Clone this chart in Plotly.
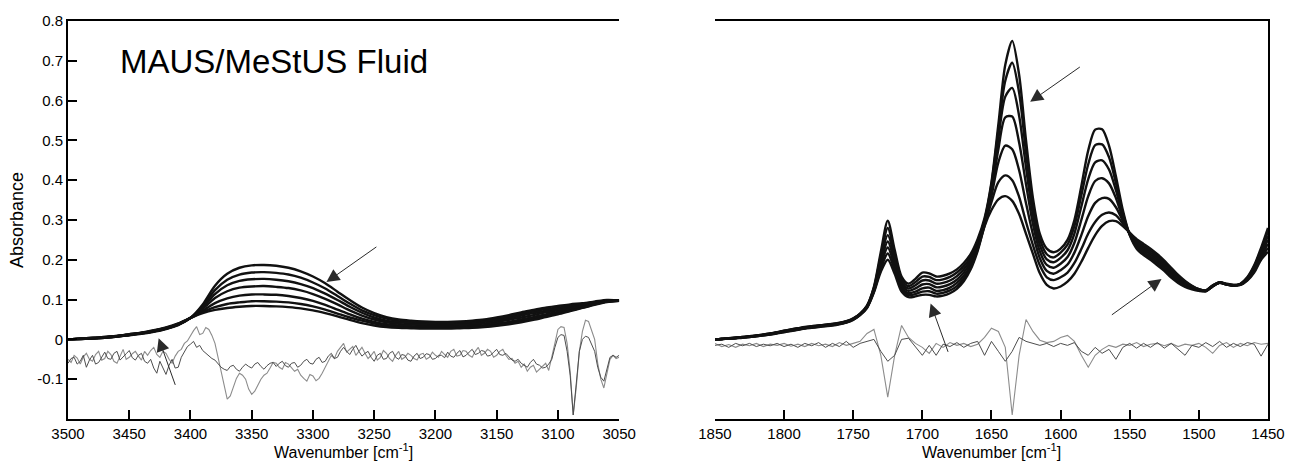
import plotly.graph_objects as go

# ---------------- O-H / C-H region (left panel) ----------------
wn_oh = [3500, 3490, 3480, 3470, 3460, 3450, 3440, 3430, 3420, 3410,
         3400, 3390, 3380, 3370, 3360, 3350, 3340, 3330, 3320, 3310,
         3300, 3290, 3280, 3270, 3260, 3250, 3240, 3230, 3220, 3210,
         3200, 3190, 3180, 3170, 3160, 3150, 3140, 3130, 3120, 3110,
         3100, 3090, 3080, 3070, 3060, 3050]

oh_1 = [0.000, 0.001, 0.002, 0.004, 0.007, 0.010, 0.014, 0.019, 0.026, 0.036,
        0.054, 0.088, 0.135, 0.165, 0.180, 0.186, 0.187, 0.185, 0.180, 0.171,
        0.158, 0.141, 0.120, 0.099, 0.080, 0.066, 0.056, 0.050, 0.047, 0.045,
        0.044, 0.044, 0.045, 0.047, 0.050, 0.055, 0.061, 0.068, 0.074, 0.080,
        0.084, 0.088, 0.091, 0.095, 0.099, 0.098]
oh_2 = [0.000, 0.001, 0.002, 0.004, 0.007, 0.011, 0.015, 0.020, 0.027, 0.037,
        0.054, 0.084, 0.124, 0.150, 0.163, 0.168, 0.169, 0.167, 0.163, 0.155,
        0.143, 0.128, 0.109, 0.090, 0.073, 0.061, 0.052, 0.046, 0.044, 0.042,
        0.041, 0.041, 0.042, 0.044, 0.047, 0.051, 0.057, 0.064, 0.070, 0.076,
        0.080, 0.085, 0.089, 0.094, 0.098, 0.098]
oh_3 = [0.000, 0.001, 0.003, 0.005, 0.008, 0.011, 0.015, 0.020, 0.027, 0.037,
        0.054, 0.081, 0.114, 0.136, 0.147, 0.151, 0.152, 0.150, 0.146, 0.139,
        0.129, 0.115, 0.099, 0.082, 0.067, 0.055, 0.047, 0.043, 0.041, 0.039,
        0.038, 0.038, 0.039, 0.041, 0.044, 0.048, 0.053, 0.060, 0.066, 0.072,
        0.077, 0.082, 0.087, 0.092, 0.097, 0.098]
oh_4 = [0.000, 0.002, 0.003, 0.005, 0.008, 0.012, 0.016, 0.021, 0.028, 0.038,
        0.054, 0.077, 0.104, 0.121, 0.130, 0.133, 0.134, 0.132, 0.129, 0.123,
        0.114, 0.102, 0.088, 0.073, 0.060, 0.050, 0.043, 0.039, 0.037, 0.036,
        0.035, 0.035, 0.036, 0.038, 0.040, 0.044, 0.049, 0.055, 0.061, 0.068,
        0.073, 0.079, 0.085, 0.091, 0.096, 0.098]
oh_5 = [0.000, 0.002, 0.003, 0.005, 0.008, 0.012, 0.016, 0.022, 0.029, 0.039,
        0.054, 0.072, 0.091, 0.103, 0.110, 0.113, 0.113, 0.112, 0.109, 0.104,
        0.097, 0.087, 0.075, 0.063, 0.052, 0.044, 0.038, 0.035, 0.033, 0.032,
        0.032, 0.032, 0.033, 0.034, 0.036, 0.040, 0.044, 0.050, 0.056, 0.063,
        0.069, 0.076, 0.082, 0.089, 0.095, 0.097]
oh_6 = [0.000, 0.002, 0.004, 0.006, 0.009, 0.013, 0.017, 0.022, 0.029, 0.039,
        0.054, 0.069, 0.081, 0.089, 0.093, 0.096, 0.096, 0.095, 0.093, 0.089,
        0.083, 0.075, 0.065, 0.055, 0.047, 0.040, 0.034, 0.031, 0.030, 0.029,
        0.029, 0.029, 0.030, 0.031, 0.033, 0.036, 0.041, 0.046, 0.052, 0.059,
        0.065, 0.073, 0.080, 0.088, 0.095, 0.097]
oh_7 = [0.000, 0.002, 0.004, 0.006, 0.009, 0.013, 0.017, 0.023, 0.030, 0.040,
        0.054, 0.066, 0.074, 0.079, 0.082, 0.084, 0.084, 0.083, 0.081, 0.078,
        0.073, 0.066, 0.058, 0.049, 0.041, 0.035, 0.031, 0.029, 0.028, 0.027,
        0.027, 0.027, 0.028, 0.029, 0.031, 0.034, 0.038, 0.043, 0.049, 0.056,
        0.063, 0.071, 0.079, 0.087, 0.094, 0.097]

# difference spectra, 2.5 cm-1 spacing
wn_oh_diff = [3500 - 2.5 * i for i in range(181)]
oh_diff_a = [
    -0.050, -0.058, -0.040, -0.047, -0.062, -0.044, -0.035, -0.050, -0.055, -0.038,
    -0.030, -0.052, -0.048, -0.030, -0.038, -0.055, -0.060, -0.040, -0.025, -0.050,
    -0.045, -0.036, -0.030, -0.042, -0.052, -0.030, -0.040, -0.028, -0.020, -0.038,
    -0.045, -0.030, -0.035, -0.050, -0.060, -0.042, -0.030, -0.025, -0.010, -0.004,
    0.010, 0.022, 0.032, 0.012, 0.015, 0.030, 0.025, 0.010, -0.010, -0.045,
    -0.080, -0.120, -0.150, -0.142, -0.120, -0.098, -0.085, -0.090, -0.100, -0.125,
    -0.138, -0.130, -0.115, -0.100, -0.090, -0.085, -0.072, -0.058, -0.060, -0.070,
    -0.075, -0.058, -0.062, -0.072, -0.080, -0.075, -0.090, -0.098, -0.105, -0.088,
    -0.092, -0.104, -0.098, -0.085, -0.070, -0.052, -0.040, -0.048, -0.030, -0.020,
    -0.010, -0.032, -0.025, -0.018, -0.040, -0.030, -0.020, -0.035, -0.048, -0.040,
    -0.030, -0.052, -0.045, -0.028, -0.035, -0.048, -0.055, -0.040, -0.030, -0.050,
    -0.045, -0.035, -0.040, -0.048, -0.052, -0.038, -0.035, -0.050, -0.045, -0.032,
    -0.040, -0.045, -0.030, -0.038, -0.045, -0.030, -0.025, -0.042, -0.040, -0.028,
    -0.030, -0.040, -0.045, -0.030, -0.020, -0.040, -0.035, -0.025, -0.030, -0.045,
    -0.040, -0.030, -0.025, -0.040, -0.050, -0.048, -0.060, -0.055, -0.070, -0.062,
    -0.080, -0.070, -0.065, -0.082, -0.075, -0.068, -0.060, -0.078, -0.040, -0.010,
    0.025, 0.032, 0.030, -0.010, -0.080, -0.190, -0.120, -0.030, 0.020, 0.048,
    0.045, 0.020, 0.000, -0.060, -0.100, -0.122, -0.090, -0.050, -0.040, -0.048,
    -0.045]
oh_diff_b = [
    -0.060, -0.048, -0.045, -0.062, -0.055, -0.040, -0.070, -0.052, -0.040, -0.062,
    -0.058, -0.045, -0.032, -0.048, -0.050, -0.035, -0.030, -0.052, -0.045, -0.036,
    -0.028, -0.046, -0.052, -0.040, -0.035, -0.055, -0.060, -0.050, -0.072, -0.085,
    -0.055, -0.070, -0.088, -0.065, -0.050, -0.072, -0.070, -0.045, -0.030, -0.018,
    -0.012, -0.005, -0.020, -0.015, -0.028, -0.035, -0.040, -0.048, -0.052, -0.060,
    -0.070, -0.075, -0.078, -0.068, -0.065, -0.075, -0.080, -0.070, -0.062, -0.068,
    -0.072, -0.062, -0.058, -0.068, -0.075, -0.066, -0.060, -0.058, -0.068, -0.060,
    -0.055, -0.066, -0.070, -0.060, -0.058, -0.070, -0.065, -0.055, -0.050, -0.060,
    -0.062, -0.050, -0.045, -0.058, -0.055, -0.042, -0.035, -0.048, -0.045, -0.030,
    -0.020, -0.030, -0.038, -0.025, -0.015, -0.030, -0.042, -0.035, -0.030, -0.045,
    -0.055, -0.040, -0.035, -0.050, -0.048, -0.035, -0.030, -0.045, -0.050, -0.038,
    -0.040, -0.052, -0.055, -0.042, -0.035, -0.048, -0.045, -0.036, -0.038, -0.050,
    -0.048, -0.040, -0.040, -0.046, -0.032, -0.042, -0.045, -0.035, -0.028, -0.044,
    -0.040, -0.032, -0.025, -0.038, -0.035, -0.028, -0.030, -0.042, -0.040, -0.032,
    -0.025, -0.038, -0.040, -0.035, -0.045, -0.052, -0.055, -0.050, -0.060, -0.066,
    -0.070, -0.058, -0.050, -0.062, -0.065, -0.072, -0.070, -0.062, -0.050, -0.020,
    0.005, 0.012, 0.010, -0.030, -0.090, -0.190, -0.110, -0.030, 0.000, 0.008,
    0.005, -0.015, -0.030, -0.070, -0.095, -0.105, -0.075, -0.045, -0.040, -0.045,
    -0.040]

# ---------------- C=O / C=C region (right panel) ----------------
wn_co = list(range(1850, 1445, -5))
co_1 = [.000, .001, .003, .004, .006, .008, .010, .012, .015, .018,
        .022, .025, .028, .031, .033, .035, .037, .039, .042, .046,
        .053, .065, .085, .132, .220, .298, .225, .158, .140, .152,
        .168, .166, .158, .160, .166, .176, .192, .215, .252, .305,
        .395, .540, .690, .750, .665, .500, .355, .265, .228, .219,
        .228, .250, .300, .385, .475, .527, .528, .487, .410, .325,
        .262, .228, .212, .200, .186, .172, .155, .142, .132, .126,
        .122, .121, .133, .142, .138, .135, .140, .156, .186, .230,
        .280]
co_2 = [.000, .001, .003, .004, .006, .008, .010, .012, .015, .018,
        .021, .025, .028, .030, .033, .035, .037, .039, .041, .045,
        .052, .064, .084, .130, .210, .280, .215, .151, .134, .144,
        .158, .157, .149, .151, .157, .168, .184, .208, .246, .300,
        .390, .525, .650, .695, .620, .470, .335, .252, .214, .206,
        .218, .238, .285, .362, .440, .488, .490, .458, .393, .318,
        .263, .232, .216, .204, .190, .176, .159, .145, .135, .128,
        .123, .121, .133, .142, .138, .135, .139, .155, .183, .225,
        .270]
co_3 = [.000, .001, .003, .004, .005, .007, .009, .012, .014, .017,
        .021, .024, .027, .030, .032, .034, .036, .038, .041, .045,
        .052, .064, .083, .127, .200, .262, .205, .144, .128, .136,
        .148, .148, .140, .142, .148, .159, .176, .201, .240, .296,
        .383, .505, .610, .632, .562, .432, .313, .237, .201, .194,
        .205, .224, .266, .334, .403, .445, .450, .427, .375, .311,
        .264, .236, .221, .208, .194, .180, .163, .149, .138, .130,
        .124, .122, .134, .142, .138, .136, .139, .153, .180, .220,
        .260]
co_4 = [.000, .001, .002, .004, .005, .007, .009, .011, .014, .017,
        .020, .023, .026, .029, .031, .033, .035, .037, .040, .044,
        .051, .063, .082, .125, .192, .246, .194, .137, .122, .128,
        .138, .139, .131, .133, .139, .150, .168, .194, .235, .293,
        .372, .478, .558, .560, .495, .390, .290, .221, .187, .180,
        .190, .207, .243, .300, .360, .398, .405, .392, .355, .304,
        .265, .240, .226, .213, .199, .185, .168, .153, .141, .132,
        .125, .122, .134, .143, .139, .136, .138, .152, .177, .215,
        .250]
co_5 = [.000, .001, .002, .003, .005, .007, .009, .011, .013, .016,
        .020, .023, .026, .028, .031, .033, .035, .037, .039, .043,
        .050, .062, .081, .122, .185, .231, .184, .131, .116, .120,
        .128, .130, .122, .124, .130, .142, .160, .187, .230, .290,
        .360, .445, .487, .478, .425, .342, .264, .204, .172, .165,
        .174, .188, .218, .262, .310, .343, .355, .353, .332, .298,
        .266, .244, .231, .218, .204, .189, .172, .156, .143, .133,
        .125, .122, .135, .143, .139, .136, .138, .150, .174, .210,
        .240]
co_6 = [.000, .001, .002, .003, .005, .006, .008, .010, .013, .016,
        .019, .022, .025, .028, .030, .032, .034, .036, .039, .043,
        .050, .062, .080, .120, .177, .216, .174, .125, .111, .114,
        .120, .121, .115, .117, .123, .134, .153, .181, .226, .286,
        .345, .395, .412, .400, .358, .295, .237, .186, .156, .149,
        .156, .168, .192, .227, .266, .295, .313, .319, .312, .291,
        .267, .248, .235, .223, .209, .194, .176, .159, .145, .134,
        .126, .123, .135, .143, .139, .137, .137, .149, .171, .205,
        .230]
co_7 = [.000, .001, .002, .003, .004, .006, .008, .010, .012, .015,
        .018, .021, .024, .027, .029, .031, .033, .035, .038, .042,
        .049, .061, .079, .118, .170, .200, .165, .120, .106, .108,
        .112, .112, .108, .110, .116, .127, .146, .176, .222, .284,
        .325, .352, .360, .348, .315, .265, .215, .166, .137, .128,
        .133, .145, .165, .195, .230, .262, .285, .297, .297, .285,
        .268, .252, .240, .228, .214, .198, .180, .162, .147, .135,
        .126, .123, .136, .144, .140, .137, .137, .148, .168, .200,
        .220]

co_diff_a = [-0.010, -0.018, -0.013, -0.020, -0.012, -0.016, -0.010, -0.018, -0.012, -0.015,
             -0.010, -0.017, -0.012, -0.018, -0.010, -0.016, -0.012, -0.018, -0.008, -0.015,
             -0.010, -0.005, 0.015, 0.025, -0.040, -0.145, -0.040, 0.035, 0.005, -0.010,
             -0.020, -0.035, -0.010, -0.020, -0.008, -0.015, -0.010, -0.018, -0.012, 0.005,
             0.028, 0.020, -0.020, -0.190, -0.040, 0.050, 0.020, -0.002, -0.008, -0.005,
             0.005, 0.010, -0.005, -0.040, -0.070, -0.040, -0.025, -0.015, -0.020, -0.012,
             -0.015, -0.008, -0.018, -0.012, -0.010, -0.016, -0.010, -0.018, -0.012, -0.015,
             -0.010, -0.020, -0.035, -0.015, -0.008, -0.020, -0.010, -0.016, -0.008, -0.012,
             -0.010]
co_diff_b = [-0.015, -0.012, -0.020, -0.010, -0.016, -0.010, -0.018, -0.012, -0.016, -0.010,
             -0.018, -0.012, -0.020, -0.010, -0.016, -0.008, -0.020, -0.010, -0.018, -0.005,
             -0.020, -0.010, -0.005, 0.000, -0.030, -0.055, -0.040, 0.000, 0.003, -0.020,
             -0.040, -0.015, -0.040, -0.012, -0.018, -0.008, -0.020, -0.010, -0.005, -0.040,
             -0.005, -0.030, -0.055, -0.030, 0.005, -0.005, -0.010, -0.015, -0.010, -0.018,
             -0.010, -0.015, -0.008, -0.030, -0.040, -0.020, -0.035, -0.025, -0.050, -0.020,
             -0.010, -0.022, -0.010, -0.020, -0.008, -0.022, -0.010, -0.025, -0.040, -0.015,
             -0.020, -0.008, -0.018, -0.005, -0.020, -0.010, -0.018, -0.008, -0.012, -0.042,
             -0.012]

y_ticks = [-0.1, 0, 0.1, 0.2, 0.3, 0.4, 0.5, 0.6, 0.7, 0.8]
y_tick_text = ["-0.1", "0", "0.1", "0.2", "0.3", "0.4", "0.5", "0.6", "0.7", "0.8"]
x_ticks_oh = list(range(3500, 3049, -50))
x_ticks_co = list(range(1850, 1449, -50))

FONT = "Liberation Sans, Arial, Helvetica, sans-serif"
SPEC_COLOR = "#111111"
DIFF_LIGHT = "#8c8c8c"
DIFF_DARK = "#4d4d4d"

fig = go.Figure()

for ys in [oh_1, oh_2, oh_3, oh_4, oh_5, oh_6, oh_7]:
    fig.add_trace(go.Scatter(x=wn_oh, y=ys, mode="lines", xaxis="x", yaxis="y",
                             line=dict(color=SPEC_COLOR, width=2.4, shape="spline", smoothing=0.8),
                             hoverinfo="skip"))
fig.add_trace(go.Scatter(x=wn_oh_diff, y=oh_diff_a, mode="lines", xaxis="x", yaxis="y",
                         line=dict(color=DIFF_LIGHT, width=1.1)))
fig.add_trace(go.Scatter(x=wn_oh_diff, y=oh_diff_b, mode="lines", xaxis="x", yaxis="y",
                         line=dict(color=DIFF_DARK, width=1.0)))

for ys in [co_1, co_2, co_3, co_4, co_5, co_6, co_7]:
    fig.add_trace(go.Scatter(x=wn_co, y=ys, mode="lines", xaxis="x2", yaxis="y2",
                             line=dict(color=SPEC_COLOR, width=2.4, shape="spline", smoothing=0.8),
                             hoverinfo="skip"))
fig.add_trace(go.Scatter(x=wn_co, y=co_diff_a, mode="lines", xaxis="x2", yaxis="y2",
                         line=dict(color=DIFF_LIGHT, width=1.1)))
fig.add_trace(go.Scatter(x=wn_co, y=co_diff_b, mode="lines", xaxis="x2", yaxis="y2",
                         line=dict(color=DIFF_DARK, width=1.0)))

axis_common = dict(showgrid=False, zeroline=False, showline=True, linecolor="black",
                   linewidth=2, ticks="inside", ticklen=9, tickwidth=2, tickcolor="black",
                   tickfont=dict(family=FONT, size=15, color="black"))

fig.update_layout(
    width=1297, height=463,
    margin=dict(l=68, r=14, t=17, b=44),
    paper_bgcolor="white", plot_bgcolor="white",
    showlegend=False,
    font=dict(family=FONT, color="black"),
    xaxis=dict(domain=[0, 0.4593], range=[3500, 3050], tickvals=x_ticks_oh,
               mirror=True, anchor="y", **axis_common),
    yaxis=dict(domain=[0, 1], range=[-0.2, 0.8], tickvals=y_ticks, ticktext=y_tick_text,
               anchor="x", **axis_common),
    xaxis2=dict(domain=[0.5391, 1], range=[1850, 1450], tickvals=x_ticks_co,
                mirror=True, anchor="y2", **axis_common),
    yaxis2=dict(domain=[0, 1], range=[-0.2, 0.8], anchor="x2", side="right",
                showgrid=False, zeroline=False, showline=True, linecolor="black",
                linewidth=2, ticks="", showticklabels=False),
)

arrow_style = dict(showarrow=True, text="", arrowhead=2, arrowsize=2.6, arrowwidth=1.0,
                   arrowcolor="#2a2a2a", standoff=0)
fig.add_annotation(x=3289, y=0.144, ax=3247, ay=0.235, xref="x", yref="y",
                   axref="x", ayref="y", **arrow_style)
fig.add_annotation(x=3426, y=0.003, ax=3412, ay=-0.118, xref="x", yref="y",
                   axref="x", ayref="y", **arrow_style)
fig.add_annotation(x=1622, y=0.597, ax=1585, ay=0.687, xref="x2", yref="y2",
                   axref="x2", ayref="y2", **arrow_style)
fig.add_annotation(x=1694, y=0.090, ax=1681, ay=-0.035, xref="x2", yref="y2",
                   axref="x2", ayref="y2", **arrow_style)
fig.add_annotation(x=1527, y=0.152, ax=1564, ay=0.059, xref="x2", yref="y2",
                   axref="x2", ayref="y2", **arrow_style)

# panel label
fig.add_annotation(x=3459, y=0.698, xref="x", yref="y", text="MAUS/MeStUS Fluid",
                   showarrow=False, xanchor="left", yanchor="middle",
                   font=dict(family=FONT, size=33, color="black"))

# axis titles
fig.add_annotation(x=0, y=0.5, xref="paper", yref="paper", text="Absorbance",
                   textangle=-90, showarrow=False, xanchor="center", yanchor="middle",
                   xshift=-51, font=dict(family=FONT, size=18, color="black"))
for dom in ([0, 0.4593], [0.5391, 1]):
    fig.add_annotation(x=(dom[0] + dom[1]) / 2, y=0, xref="paper", yref="paper",
                       text="Wavenumber [cm<sup>-1</sup>]", showarrow=False,
                       xanchor="center", yanchor="middle", yshift=-32, borderpad=0,
                       font=dict(family=FONT, size=16, color="black"))

fig.write_html("out.html")
